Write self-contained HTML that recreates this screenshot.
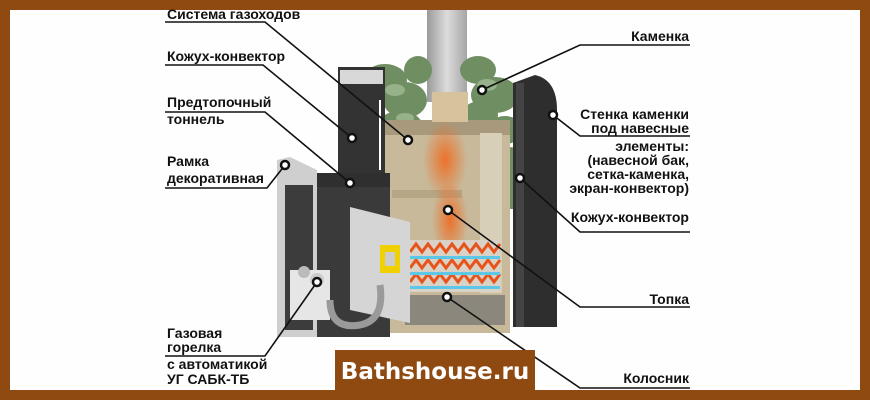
<!DOCTYPE html>
<html><head><meta charset="utf-8"><style>
html,body{margin:0;padding:0;background:#8f4a12;}
svg{display:block}
text{font-family:"Liberation Sans",sans-serif;font-weight:bold;font-size:14px;fill:#111}
</style></head><body>
<svg width="870" height="400" viewBox="0 0 870 400" xmlns="http://www.w3.org/2000/svg">
<defs>
<radialGradient id="fire" cx="0.5" cy="0.5" r="0.5">
<stop offset="0" stop-color="#f06a1e" stop-opacity="0.9"/>
<stop offset="1" stop-color="#f06a1e" stop-opacity="0"/>
</radialGradient>
<linearGradient id="pipe" x1="0" x2="1">
<stop offset="0" stop-color="#9a9a9a"/><stop offset="0.5" stop-color="#dcdcdc"/><stop offset="1" stop-color="#a5a5a5"/>
</linearGradient>
</defs>
<rect x="0" y="0" width="870" height="400" fill="#8f4a12"/>
<rect x="10" y="10" width="850" height="380" fill="#fefefe"/>

<rect x="427" y="10" width="40" height="92" fill="url(#pipe)"/>
<g fill="#6f8f62">
<ellipse cx="385" cy="80" rx="22" ry="16"/><ellipse cx="405" cy="100" rx="22" ry="18"/><ellipse cx="400" cy="125" rx="22" ry="14"/>
<ellipse cx="418" cy="70" rx="14" ry="14"/><ellipse cx="478" cy="70" rx="18" ry="14"/><ellipse cx="495" cy="95" rx="24" ry="18"/>
<ellipse cx="480" cy="115" rx="18" ry="14"/><ellipse cx="505" cy="130" rx="18" ry="14"/><ellipse cx="510" cy="165" rx="14" ry="18"/><ellipse cx="512" cy="195" rx="12" ry="14"/>
</g>
<g fill="#a9c29c" opacity="0.7">
<ellipse cx="395" cy="90" rx="10" ry="6"/><ellipse cx="487" cy="85" rx="10" ry="6"/><ellipse cx="500" cy="150" rx="8" ry="6"/><ellipse cx="405" cy="118" rx="9" ry="5"/>
</g>
<rect x="385" y="120" width="125" height="213" fill="#c8b99a"/>
<rect x="385" y="120" width="125" height="15" fill="#a8997c"/>
<rect x="392" y="190" width="70" height="8" fill="#b5a685"/>
<rect x="480" y="133" width="22" height="160" fill="#d8cfb8"/>
<rect x="432" y="92" width="36" height="30" fill="#d6c39c"/>
<ellipse cx="445" cy="160" rx="22" ry="40" fill="url(#fire)"/>
<ellipse cx="450" cy="220" rx="18" ry="40" fill="url(#fire)"/>
<rect x="410" y="240" width="90" height="52" fill="#d9d2c6"/>
<path d="M410 252 l6 -8 l6 8 l6 -8 l6 8 l6 -8 l6 8 l6 -8 l6 8 l6 -8 l6 8 l6 -8 l6 8 l6 -8 l6 8 l6 -8" stroke="#e8531c" stroke-width="3" fill="none"/>
<path d="M410 268 l6 -8 l6 8 l6 -8 l6 8 l6 -8 l6 8 l6 -8 l6 8 l6 -8 l6 8 l6 -8 l6 8 l6 -8 l6 8 l6 -8" stroke="#e8531c" stroke-width="3" fill="none"/>
<path d="M410 282 l6 -8 l6 8 l6 -8 l6 8 l6 -8 l6 8 l6 -8 l6 8 l6 -8 l6 8 l6 -8 l6 8 l6 -8 l6 8 l6 -8" stroke="#e8531c" stroke-width="3" fill="none"/>
<rect x="410" y="256" width="90" height="3" fill="#5cc7e8"/><rect x="410" y="272" width="90" height="3" fill="#5cc7e8"/><rect x="410" y="286" width="90" height="3" fill="#5cc7e8"/>
<rect x="405" y="295" width="100" height="30" fill="#8c877c"/>
<path d="M513 83 L535 75 Q557 80 557 110 L557 327 L513 327 Z" fill="#2e2e2e"/>
<rect x="516" y="83" width="8" height="244" fill="#444"/>
<rect x="338" y="67" width="47" height="120" fill="#333"/>
<rect x="340" y="70" width="43" height="14" fill="#d8d8d8"/>
<line x1="380" y1="170" x2="380" y2="100" stroke="#fff" stroke-width="2"/>
<rect x="317" y="173" width="73" height="27" fill="#2f2f2f"/>
<rect x="290" y="187" width="100" height="150" fill="#3a3a3a"/>
<path d="M277 160 L290 157 L317 170 L317 337 L277 337 Z" fill="#cfcfcf"/>
<rect x="285" y="185" width="28" height="145" fill="#3c3c3c"/>
<path d="M350 207 L410 222 L410 323 L350 310 Z" fill="#d5d5d5"/>
<rect x="380" y="245" width="20" height="28" fill="#f0d000"/>
<rect x="385" y="252" width="10" height="14" fill="#ccc"/>
<rect x="290" y="270" width="40" height="50" fill="#e6e6e6"/>
<circle cx="304" cy="272" r="6" fill="#bbb"/><circle cx="317" cy="280" r="7" fill="#ccc"/>
<path d="M330 300 Q330 330 360 325 Q385 320 380 285" stroke="#9a9a9a" stroke-width="7" fill="none"/>

<g stroke="#111" stroke-width="1.6" fill="none">
<polyline points="165,22 265,22 408,140"/>
<polyline points="165,65 263,65 352,138"/>
<polyline points="165,112 265,112 350,183"/>
<polyline points="165,188 267,188 285,165"/>
<polyline points="165,356 265,356 317,282"/>
<polyline points="690,45 580,45 482,90"/>
<polyline points="690,136 580,136 553,115"/>
<polyline points="690,232 580,232 520,178"/>
<polyline points="690,307 580,307 448,210"/>
<polyline points="690,388 580,388 447,297"/>
</g>
<g fill="#fff" stroke="#111" stroke-width="2.5">
<circle cx="408" cy="140" r="4"/><circle cx="352" cy="138" r="4"/><circle cx="350" cy="183" r="4"/><circle cx="285" cy="165" r="4"/>
<circle cx="317" cy="282" r="4"/><circle cx="482" cy="90" r="4"/><circle cx="553" cy="115" r="4"/><circle cx="520" cy="178" r="4"/>
<circle cx="448" cy="210" r="4"/><circle cx="447" cy="297" r="4"/>
</g>

<text x="167" y="19">Система газоходов</text>
<text x="167" y="61">Кожух-конвектор</text>
<text x="167" y="107">Предтопочный</text>
<text x="167" y="124">тоннель</text>
<text x="167" y="166">Рамка</text>
<text x="167" y="183">декоративная</text>
<text x="167" y="338">Газовая</text>
<text x="167" y="352">горелка</text>
<text x="167" y="369">с автоматикой</text>
<text x="167" y="384">УГ САБК-ТБ</text>
<g text-anchor="end">
<text x="689" y="41">Каменка</text>
<text x="689" y="119">Стенка каменки</text>
<text x="689" y="133">под навесные</text>
<text x="689" y="151">элементы:</text>
<text x="689" y="165">(навесной бак,</text>
<text x="689" y="179">сетка-каменка,</text>
<text x="689" y="193">экран-конвектор)</text>
<text x="689" y="222">Кожух-конвектор</text>
<text x="689" y="304">Топка</text>
<text x="689" y="383">Колосник</text>
</g>
<rect x="335" y="350" width="200" height="40" fill="#8f4a12"/>
<text x="435" y="379" text-anchor="middle" style="fill:#fff;font-size:23px;font-family:'DejaVu Sans','Liberation Sans',sans-serif">Bathshouse.ru</text>
</svg>
</body></html>
